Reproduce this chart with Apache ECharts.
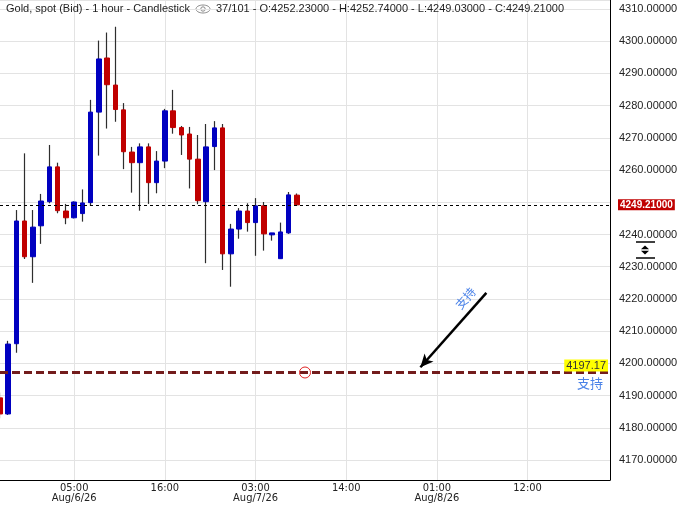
<!DOCTYPE html>
<html>
<head>
<meta charset="utf-8">
<script src="https://cdn.jsdelivr.net/npm/echarts@6/dist/echarts.min.js"></script>
<style>html,body{margin:0;padding:0;background:#fff}#chart{width:679px;height:505px}</style>
</head>
<body>
<div id="chart"></div>
<script>
// hourly slots, first slot = Aug 5 20:00
const startDay = 5, startHour = 20, slotCount = 75;
const opens  = [4189.3,4184.3,4206.1,4244.2,4233.1,4242.7,4250.2,4261.0,4247.3,4245.2,4246.5,4249.9,4278.0,4294.8,4286.4,4278.7,4265.6,4262.3,4267.2,4256.1,4262.8,4278.4,4273.2,4271.2,4263.4,4250.2,4267.3,4273.1,4234.0,4241.7,4247.3,4243.7,4248.9,4239.9,4232.5,4240.5,4252.23];
const closes = [4184.3,4206.0,4244.2,4233.1,4242.3,4250.4,4261.0,4247.4,4245.2,4250.1,4249.8,4278.0,4294.5,4286.5,4278.8,4265.7,4262.3,4267.2,4256.1,4262.8,4278.4,4273.2,4270.9,4263.4,4250.5,4267.2,4273.1,4234.0,4241.7,4247.3,4243.7,4248.9,4240.2,4240.5,4240.8,4252.3,4249.21];
const lows   = [4183.0,4184.0,4203.3,4232.4,4225.0,4237.1,4249.7,4246.6,4243.2,4245.0,4244.0,4248.9,4264.5,4272.9,4275.0,4260.3,4253.0,4247.4,4249.5,4252.8,4260.6,4271.3,4264.7,4254.3,4249.4,4231.1,4260.0,4229.0,4223.8,4238.7,4240.9,4233.4,4235.0,4238.1,4232.5,4240.2,4249.03];
const highs  = [4191.0,4207.0,4247.6,4265.2,4247.6,4252.6,4267.8,4262.3,4249.5,4250.3,4254.0,4281.8,4300.2,4302.7,4304.5,4280.8,4267.2,4268.3,4268.3,4265.9,4279.0,4284.9,4273.7,4273.4,4270.9,4274.3,4275.2,4274.3,4243.3,4248.2,4249.7,4251.3,4250.1,4240.5,4243.7,4253.2,4252.74];
const barTotal = 101;
const supportLevel = 4197.17;
const supportText = '支持';
const arrowFrom = [59.05, 4221.9];
const arrowTo = [50.9, 4198.8];
const circleAt = [36.8, 4197.17];
const yMin = 4163.8, yMax = 4312.8;

const cats = [];
for (let i = 0; i < slotCount; i++) {
  const t = startHour + i;
  const h = t % 24, d = startDay + Math.floor(t / 24);
  cats.push('Aug/' + d + '/26|' + (h < 10 ? '0' : '') + h + ':00');
}
const tickAt = (i) => i >= 9 && (i - 9) % 11 === 0;

const ohlc = opens.map((o, i) => [o, closes[i], lows[i], highs[i]]);
const bodies = opens.map((o, i) => [o, closes[i], Math.min(o, closes[i]), Math.max(o, closes[i])]);
const last = opens.length - 1;
const f5 = v => v.toFixed(5);
const header2 = (last + 1) + '/' + barTotal + ' - O:' + f5(opens[last]) + ' - H:' + f5(highs[last]) +
  ' - L:' + f5(lows[last]) + ' - C:' + f5(closes[last]);

const txt = {fontSize: 11, fontWeight: 'normal', color: '#1e1e1e', fontFamily: 'Liberation Sans, Arial, sans-serif'};
const blueTxt = '#4a82e8';

const chart = echarts.init(document.getElementById('chart'));
chart.setOption({
  animation: false,
  backgroundColor: '#fff',
  title: [
    {text: 'Gold, spot (Bid) - 1 hour - Candlestick', left: 6, top: 3, padding: 0, textStyle: txt},
    {text: header2, left: 216, top: 3, padding: 0, textStyle: txt}
  ],
  grid: {left: 0, right: 69, top: 0, bottom: 25, outerBoundsMode: 'none'},
  xAxis: {
    type: 'category', data: cats, boundaryGap: false,
    axisLine: {lineStyle: {color: '#000', width: 1}},
    axisTick: {show: false},
    axisLabel: {
      interval: (i) => tickAt(i), margin: 3, color: '#222', fontSize: 11, lineHeight: 10,
      fontFamily: 'Liberation Sans Narrow, Arial Narrow, DejaVu Sans Condensed, sans-serif',
      formatter: (v) => { const p = v.split('|'); const h = +p[1].slice(0, 2); return h < 11 ? p[1] + '\n' + p[0] : p[1]; }
    },
    splitLine: {show: true, interval: (i) => tickAt(i), lineStyle: {color: '#e3e3e3'}}
  },
  yAxis: {
    type: 'value', position: 'right', min: yMin, max: yMax, splitNumber: 15, scale: true,
    axisLine: {show: true, lineStyle: {color: '#000', width: 1}},
    axisTick: {show: false},
    axisLabel: {
      // the price tag on the axis hides the tick label it sits on
      formatter: (v) => Math.abs(v - closes[last]) < 5 ? '' : f5(v),
      color: '#222', fontSize: 11, margin: 9, showMinLabel: false, showMaxLabel: false,
      fontFamily: 'Liberation Sans, Arial, sans-serif'},
    splitLine: {lineStyle: {color: '#e3e3e3'}}
  },
  series: [
    {
      type: 'candlestick', data: ohlc, barWidth: 1, silent: true,
      itemStyle: {color: '#2e2e2e', color0: '#2e2e2e', borderColor: '#2e2e2e', borderColor0: '#2e2e2e', borderWidth: 1.2}
    },
    {
      type: 'candlestick', data: bodies, barWidth: 5, silent: true,
      itemStyle: {color: '#0000c0', color0: '#c00000', borderColor: '#0000c0', borderColor0: '#c00000', borderWidth: 1},
      markLine: {
        silent: true, symbol: ['none', 'none'], animation: false,
        data: [
          {yAxis: closes[last], lineStyle: {color: '#000', width: 1, type: [3, 3]},
           label: {position: 'end', distance: 8, formatter: f5(closes[last]), backgroundColor: '#c00000', color: '#fff',
             fontWeight: 'bold', fontSize: 10, padding: [1, 2, 0, 2], fontFamily: 'Liberation Sans, Arial, sans-serif'}},
          {yAxis: supportLevel, lineStyle: {color: '#731c1c', width: 3, type: [8, 4]},
           label: {position: 'insideEndTop', distance: [2, 1], formatter: supportLevel.toFixed(2), backgroundColor: '#ffff00',
             color: '#333', fontSize: 11, padding: [1, 2, 0, 2], fontFamily: 'Liberation Sans, Arial, sans-serif'}},
          {yAxis: supportLevel - 0.001, lineStyle: {color: 'rgba(0,0,0,0)', width: 0.1},
           label: {show: true, position: 'insideEndBottom', distance: [7, 4], formatter: supportText, color: blueTxt, fontSize: 13,
             fontFamily: 'Noto Sans CJK SC, sans-serif'}},
          [
            {coord: arrowFrom, symbol: 'none'},
            {coord: arrowTo, symbol: 'arrow', symbolSize: [9, 13],
             lineStyle: {color: '#000', width: 2.5, type: 'solid'},
             label: {position: 'insideStartTop', distance: 6, formatter: supportText, color: blueTxt, fontSize: 12,
               fontFamily: 'Noto Sans CJK SC, sans-serif'}}
          ]
        ]
      },
      markPoint: {
        silent: true,
        data: [{coord: circleAt, symbol: 'circle', symbolSize: 11,
          itemStyle: {color: 'rgba(0,0,0,0)', borderColor: '#e02424', borderWidth: 1}, label: {show: false}}]
      }
    }
  ],
  graphic: [
    {type: 'ellipse', shape: {cx: 203, cy: 9, rx: 7, ry: 4}, style: {fill: 'none', stroke: '#8a8a8a', lineWidth: 1}},
    {type: 'circle', shape: {cx: 203, cy: 9, r: 2.2}, style: {fill: 'none', stroke: '#8a8a8a', lineWidth: 1}},
    {type: 'line', shape: {x1: 636, y1: 242, x2: 655, y2: 242}, style: {stroke: '#000', lineWidth: 1.5}},
    {type: 'line', shape: {x1: 636, y1: 258, x2: 655, y2: 258}, style: {stroke: '#000', lineWidth: 1.5}},
    {type: 'polygon', shape: {points: [[645, 245.5], [649, 249.3], [641, 249.3]]}, style: {fill: '#000'}},
    {type: 'polygon', shape: {points: [[645, 254.5], [649, 250.7], [641, 250.7]]}, style: {fill: '#000'}}
  ]
});
</script>
</body>
</html>
